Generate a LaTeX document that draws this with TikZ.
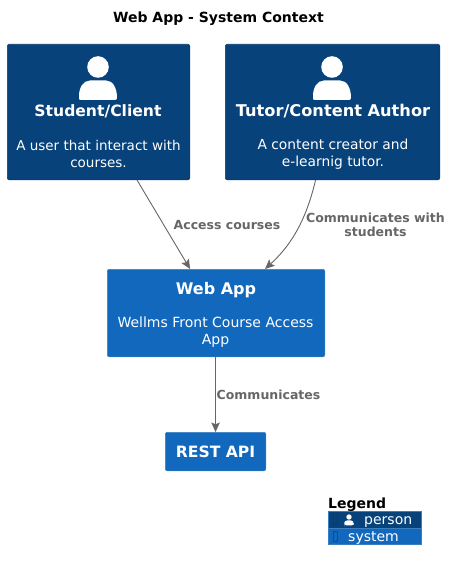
\documentclass[tikz,border=0pt]{standalone}
\usepackage{fontspec}
\usetikzlibrary{arrows.meta}
\setmainfont{DejaVu Sans}
\definecolor{personblue}{HTML}{08427B}
\definecolor{personedge}{HTML}{073B6F}
\definecolor{systemblue}{HTML}{1168BD}
\definecolor{systemedge}{HTML}{3C7FC0}
\definecolor{linkgray}{HTML}{666666}
\newcommand{\fs}[1]{\fontsize{#1}{17}\selectfont}
\tikzset{
	box/.style={draw,rounded corners=2pt,anchor=north west,inner sep=0pt,line width=.6pt},
	personbox/.style={box,fill=personblue,draw=personedge},
	systembox/.style={box,fill=systemblue,draw=systemedge},
	boxname/.style={text=white,font=\bfseries\fs{16},anchor=base,inner sep=0pt},
	boxtext/.style={text=white,font=\fs{14},align=center,inner sep=0pt},
	linklabel/.style={text=linkgray,font=\bfseries\fontsize{12.5}{14}\selectfont,align=center,inner sep=0pt},
	link/.style={draw=linkgray,line width=.9pt,->},
	legendrow/.style={anchor=north west,minimum width=93pt,inner sep=0pt,draw=systemedge,line width=.5pt},
	pics/personicon/.style={code={
		\fill[white] (0,-20) circle (10.8);
		\fill[white] (-19,11) .. controls (-19,1) and (-15,-6.5) .. (-8,-6.5) -- (8,-6.5) .. controls (15,-6.5) and (19,1) .. (19,11) [rounded corners=2pt] -- (19,13) -- (-19,13) -- cycle;
	}}
}
\begin{document}
\begin{tikzpicture}[>={Stealth[length=9.5pt,width=8.5pt,inset=1.8pt]},x=1pt,y=-1pt]
	\useasboundingbox (0,0) rectangle (450,569);
	\node[anchor=base,inner sep=0pt,font=\bfseries\fs{14}] (title) at (218.5,23) {Web App - System Context};
	% people
	\node[personbox,minimum width=182.5pt,minimum height=135.5pt] (student) at (7,44) {};
	\node[personbox,minimum width=214.5pt,minimum height=135.5pt] (tutor) at (225,44) {};
	\pic at (98,87) {personicon};
	\pic at (332,87) {personicon};
	\node[boxname,font=\bfseries\fs{15.6}] (studentname) at (98,117) {Student/Client};
	\node[boxname,font=\bfseries\fs{16.2}] (tutorname) at (333,117) {Tutor/Content Author};
	\node[boxtext,font=\fs{13.5}] (studenttext) at (98.5,154) {A user that interact with\\courses.};
	\node[boxtext,font=\fs{13.8}] (tutortext) at (333,154) {A content creator and\\e-learnig tutor.};
	% systems
	\node[systembox,minimum width=217.5pt,minimum height=87.5pt] (webapp) at (107,269) {};
	\node[boxname] (webappname) at (216,294) {Web App};
	\node[boxtext] (webapptext) at (215.5,332) {Wellms Front Course Access\\App};
	\node[systembox,minimum width=100.5pt,minimum height=38.5pt] (restapi) at (165,432) {};
	\node[boxname,font=\bfseries\fs{15.6}] (restapiname) at (215.5,457) {REST API};
	% links
	\draw[link] ([xshift=38.5pt]student.south) -- ([xshift=-26pt]webapp.north);
	\draw[link] ([xshift=-17pt]tutor.south) .. controls (305,225) and (288,248) .. ([xshift=49pt]webapp.north);
	\draw[link] ([xshift=-.5pt]webapp.south) -- (restapi.north);
	\node[linklabel] (accesslabel) at (227,225) {Access courses};
	\node[linklabel] (studentslabel) at (375.5,224.5) {Communicates with\\students};
	\node[linklabel] (commlabel) at (268.5,395) {Communicates};
	% legend
	\node[anchor=base west,inner sep=0pt,font=\bfseries\fs{14}] (legend) at (328,508) {Legend};
	\node[legendrow,fill=personblue,minimum height=16.5pt] (legendperson) at (327.5,511) {};
	\node[legendrow,fill=systemblue,minimum height=16.5pt] (legendsystem) at (327.5,527.5) {};
	\draw[personedge,line width=.5pt] (333.5,514.5) rectangle (337,524);
	\draw[personedge!60!systemblue,line width=.5pt] (333.5,531.5) rectangle (337.5,541);
	\pic[scale=.25] at (349,522) {personicon};
	\node[anchor=base west,inner sep=0pt,text=white,font=\fs{14}] (persontext) at (364,524) {person};
	\node[anchor=base west,inner sep=0pt,text=white,font=\fs{14}] (systemtext) at (348,541) {system};
\end{tikzpicture}
\end{document}
